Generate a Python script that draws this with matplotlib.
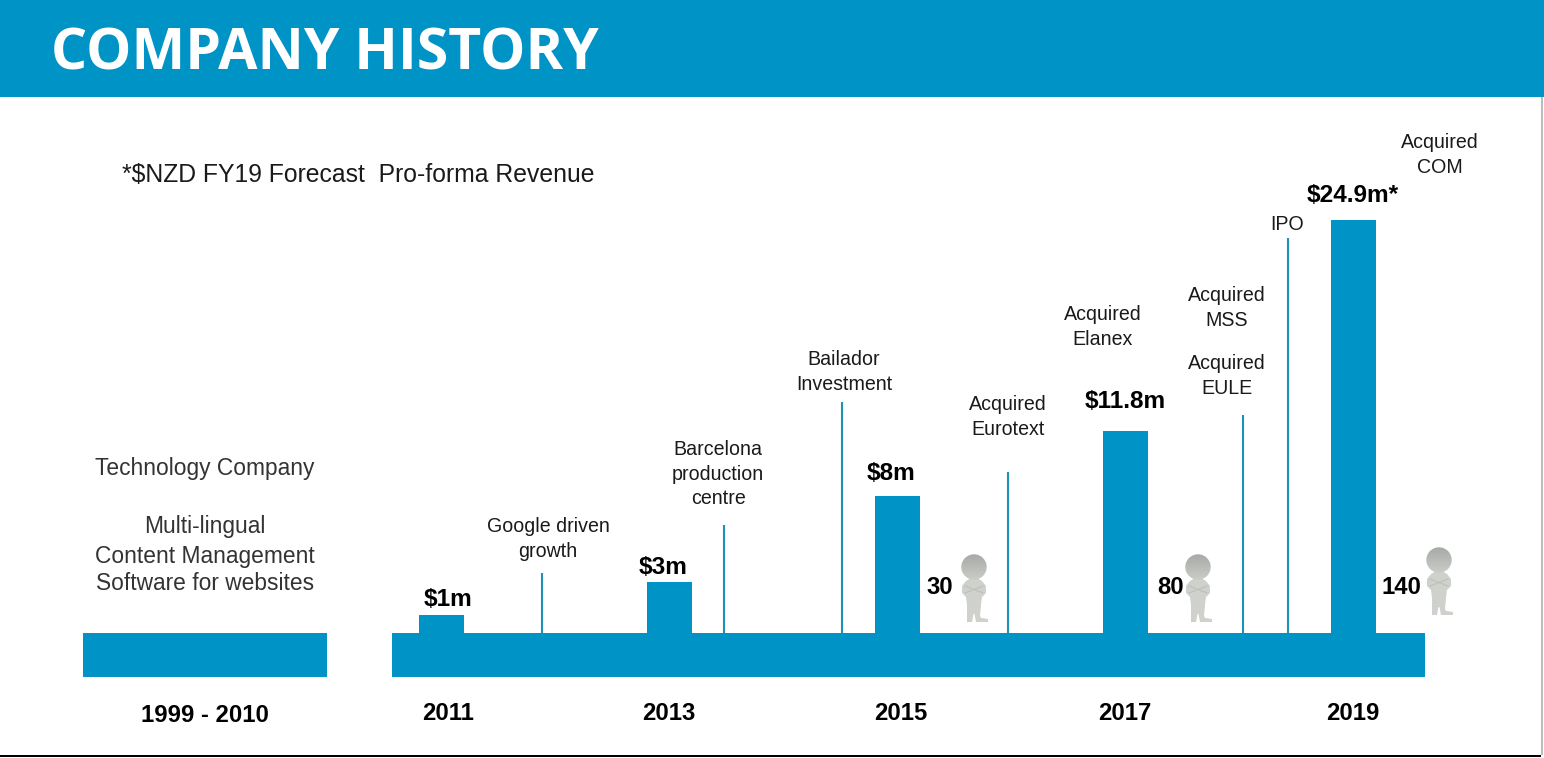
import numpy as np
import matplotlib
matplotlib.use("Agg")
import matplotlib.pyplot as plt
from matplotlib.patches import Rectangle, Circle, Polygon

BLUE = "#0094C6"
LINE = "#1B93B8"

years = ["2011", "2013", "2015", "2017", "2019"]
revenue_m = [1.08, 3.07, 8.25, 12.17, 24.9]
revenue_labels = ["$1m", "$3m", "$8m", "$11.8m", "$24.9m*"]
bar_lefts = [419, 647, 875, 1103, 1331]
year_centers = [448, 669, 901, 1125, 1353]
milestone_x = [542, 724, 842, 1008, 1243, 1288]
milestone_m = [3.6, 6.5, 13.9, 9.7, 13.15, 23.8]
staff = ["30", "80", "140"]
staff_x = [940, 1171, 1401]
figure_x = [974, 1198, 1439]
figure_y = [622, 622, 615]

W, H, BASE, PX_PER_M = 1544, 758, 633, 16.59

fig = plt.figure(figsize=(15.44, 7.58), dpi=100, facecolor="white")
px = fig.add_axes([0, 0, 1, 1], zorder=1)
px.set_xlim(0, W); px.set_ylim(H, 0); px.axis("off")
ax = fig.add_axes([0, 0, 1, 1], zorder=2)
ax.patch.set_alpha(0)
ax.set_xlim(0, W)
ax.set_ylim(-(H - BASE) / PX_PER_M, BASE / PX_PER_M)
ax.axis("off")
top = fig.add_axes([0, 0, 1, 1], zorder=3)
top.patch.set_alpha(0)
top.set_xlim(0, W); top.set_ylim(H, 0); top.axis("off")

# frame
px.add_patch(Rectangle((0, 0), W, 97, color=BLUE, lw=0))
px.add_patch(Rectangle((0, 754.5), 1541, 2, color="black", lw=0))
px.add_patch(Rectangle((1541, 97), 1.5, 658, color="#BDBDBD", lw=0))
px.add_patch(Rectangle((83, 633), 244, 44, color=BLUE, lw=0))
px.add_patch(Rectangle((392, 633), 1033, 44, color=BLUE, lw=0))

# data
ax.bar(bar_lefts, revenue_m, width=45, align="edge", color=BLUE, lw=0)
ax.vlines(milestone_x, 0, milestone_m, color=LINE, lw=1.5)

SANS = "Liberation Sans"
def t(x, y, s, size=14.6, weight="normal", color="#1a1a1a", ha="center", family=SANS, ls=1.2):
    top.text(x, y, s, fontsize=size, fontweight=weight, color=color, ha=ha, va="center",
             family=family, linespacing=ls)

top.text(51, 55, "COMPANY HISTORY", fontsize=41, fontweight="bold", color="white",
         family="Open Sans", ha="left", va="center")
t(122, 174.5, "*$NZD FY19 Forecast  Pro-forma Revenue", size=17.8, ha="left")
t(205, 469, "Technology Company", size=16.4, color="#333333")
t(205, 527, "Multi-lingual", size=16.4, color="#333333")
t(205, 556, "Content Management", size=16.4, color="#333333")
t(205, 584, "Software for websites", size=16.4, color="#333333")

notes = [(548, 539, "Google driven\ngrowth"),
         (718, 474, "Barcelona\nproduction\ncentre"),
         (844, 372, "Bailador\nInvestment"),
         (1008, 417, "Acquired\nEurotext"),
         (1103, 327, "Acquired\nElanex"),
         (1227, 308, "Acquired\nMSS"),
         (1227, 376, "Acquired\nEULE"),
         (1287, 224, "IPO"),
         (1440, 155, "Acquired\nCOM")]
for x, y, s in notes:
    t(x, y, s, size=14.1, ls=1.36)

rev_xy = [(448, 599), (663, 567), (891, 474), (1125, 401), (1353, 196)]
for (x, y), s in zip(rev_xy, revenue_labels):
    t(x, y, s, size=17.6, weight="bold", color="black")

for x, s in zip(year_centers, years):
    t(x, 713, s, size=17.2, weight="bold", color="black")
t(205, 715, "1999 - 2010", size=17.2, weight="bold", color="black")

for x, s in zip(staff_x, staff):
    t(x, 588, s, size=17.2, weight="bold", color="black")

def person(cx, bottom):
    g = "#CFD1CD"
    cy = bottom - 55
    r = 12.7
    grad = np.linspace(0, 1, 32).reshape(-1, 1)
    im = top.imshow(grad, extent=(cx - r, cx + r, cy + r, cy - r), cmap=matplotlib.colors.LinearSegmentedColormap.from_list("h", ["#A8AAA7", "#CACCC8"]),
                    aspect="auto", zorder=3)
    clip = Circle((cx, cy), r, transform=top.transData)
    im.set_clip_path(clip)
    body = [(-3, -44), (3, -44), (8, -41), (12, -36), (12, -29), (8, -25), (7, -17), (6, -6), (7, -4),
            (14, -3), (14, 0), (2, 0), (0.5, -8), (-0.5, -8), (-2, 0), (-7, 0), (-7, -8),
            (-7, -17), (-8, -25), (-12, -29), (-12, -36), (-8, -41)]
    top.add_patch(Polygon([(cx + a, bottom + b) for a, b in body], closed=True, color=g, lw=0, zorder=2))
    top.plot([cx - 9, cx + 9], [bottom - 36, bottom - 29], color="#BDBFBB", lw=0.8, zorder=3)
    top.plot([cx - 9, cx + 9], [bottom - 29, bottom - 36], color="#BDBFBB", lw=0.8, zorder=3)

for x, y in zip(figure_x, figure_y):
    person(x, y)
top.set_xlim(0, W); top.set_ylim(H, 0)

fig.savefig("out.png", dpi=100, facecolor="white")
